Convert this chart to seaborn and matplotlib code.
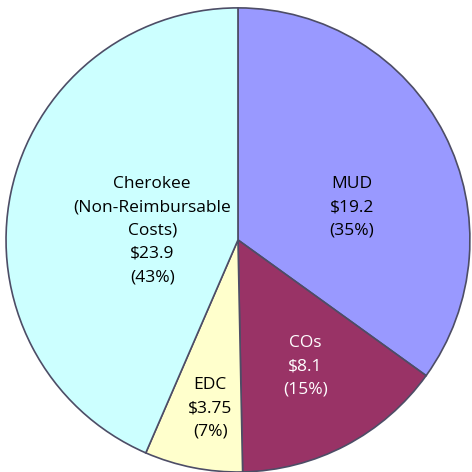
import matplotlib
matplotlib.use("Agg")
import matplotlib.pyplot as plt
import seaborn as sns

categories = ["MUD", "COs", "EDC", "Cherokee\n(Non-Reimbursable\nCosts)"]
values = [19.2, 8.1, 3.75, 23.9]
value_labels = ["$19.2", "$8.1", "$3.75", "$23.9"]
pct_labels = ["(35%)", "(15%)", "(7%)", "(43%)"]

sns.set_theme(style="white")
plt.rcParams["font.family"] = ["Open Sans", "DejaVu Sans"]

colors = ["#9999ff", "#993366", "#ffffcc", "#ccffff"]
text_colors = ["black", "white", "black", "black"]
# label positions in data units (pie radius = 1)
label_pos = [(0.49, 0.14), (0.29, -0.545), (-0.12, -0.725), (-0.37, 0.04)]

fig = plt.figure(figsize=(4.72, 4.72), dpi=100)
ax = fig.add_axes([0, 0, 1, 1])
wedges, _ = ax.pie(values, colors=colors, startangle=90, counterclock=False,
                   radius=1.0,
                   wedgeprops=dict(edgecolor="#4d4d66", linewidth=1.2))
for cat, v, p, (x, y), tc in zip(categories, value_labels, pct_labels, label_pos, text_colors):
    ax.text(x, y, f"{cat}\n{v}\n{p}", ha="center", va="center", color=tc,
            fontsize=12.5, linespacing=1.6)
ax.set_xlim(-1.026, 1.009)
ax.set_ylim(-1.0, 1.034)
ax.set_aspect("auto")
ax.axis("off")
fig.savefig("out.png", dpi=100, facecolor="white")
